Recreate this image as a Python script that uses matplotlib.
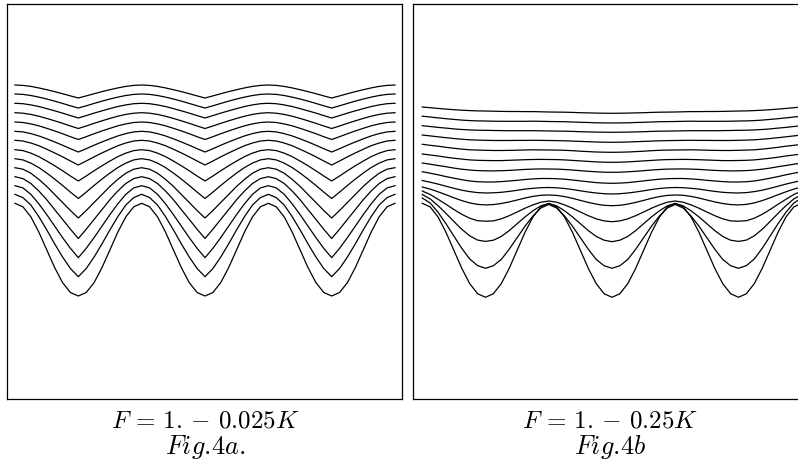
import numpy as np
import matplotlib.pyplot as plt

plt.rcParams['mathtext.fontset'] = 'cm'

# positions along the front in periods of the initial wave, from the middle trough,
# one sample every 1/16 period
phase_a = np.arange(9) / 16.     # trough -> crest, fig 4a repeats it
phase_b = np.arange(25) / 16.    # middle trough -> edge, fig 4b is mirrored

# fig 4a : F = 1 - 0.025K, initial front first, then every time step upward
# vertical position (pixels, counted downward)
front_a = [
    [296.0, 292.5, 282.5, 267.4, 249.7, 231.9, 216.8, 206.8, 203.3],
    [276.7, 268.5, 256.9, 243.7, 229.7, 216.5, 205.0, 197.6, 194.3],
    [257.7, 248.3, 237.5, 226.0, 214.5, 203.7, 194.3, 187.9, 185.7],
    [238.5, 229.2, 219.3, 209.5, 199.6, 190.9, 183.5, 178.6, 176.7],
    [218.0, 210.5, 202.4, 194.4, 186.3, 179.3, 173.2, 169.2, 167.7],
    [198.5, 192.1, 185.4, 179.0, 173.0, 167.5, 163.1, 159.9, 158.7],
    [181.0, 176.0, 170.7, 165.7, 161.0, 156.6, 153.1, 150.6, 149.7],
    [165.0, 161.0, 156.8, 152.9, 149.2, 145.7, 143.0, 141.0, 140.3],
    [152.0, 148.7, 145.2, 141.9, 138.8, 135.9, 133.6, 131.9, 131.3],
    [139.5, 136.7, 133.7, 130.9, 128.3, 125.8, 123.9, 122.5, 122.0],
    [128.5, 126.0, 123.3, 120.8, 118.4, 116.2, 114.4, 113.2, 112.7],
    [118.0, 115.6, 113.1, 110.8, 108.6, 106.5, 104.9, 103.7, 103.3],
    [108.0, 105.8, 103.4, 101.1, 99.0, 97.1, 95.5, 94.4, 94.0],
    [98.0, 95.9, 93.7, 91.6, 89.7, 87.9, 86.4, 85.4, 85.0],
]

# fig 4b : F = 1 - 0.25K
front_b = [
    [297.3, 293.7, 283.6, 268.3, 250.3, 232.3, 217.0, 206.9, 203.3, 206.9, 217.0, 232.3, 250.3,
     268.3, 283.6, 293.7, 297.3, 293.7, 283.6, 268.3, 250.3, 232.3, 217.0, 206.9, 203.3],
    [268.3, 265.7, 259.4, 249.2, 237.7, 226.2, 216.0, 208.0, 204.5, 208.0, 216.0, 226.2, 237.7,
     249.2, 259.4, 265.7, 268.3, 265.6, 259.0, 248.3, 236.1, 223.7, 212.3, 203.0, 198.0],
    [241.7, 240.2, 236.4, 230.6, 223.7, 216.9, 210.8, 205.8, 203.5, 205.8, 210.8, 216.9, 223.7,
     230.6, 236.4, 240.2, 241.4, 240.1, 235.8, 229.3, 221.5, 213.4, 205.7, 198.9, 194.5],
    [221.7, 220.9, 218.8, 215.7, 212.0, 208.2, 204.9, 202.2, 201.0, 202.2, 204.9, 208.2, 212.0,
     215.7, 218.8, 220.9, 221.2, 220.7, 218.2, 214.3, 209.5, 204.3, 199.3, 194.5, 191.0],
    [205.7, 205.3, 204.1, 202.4, 200.4, 198.3, 196.6, 195.4, 195.0, 195.3, 196.4, 198.0, 200.0,
     201.9, 203.5, 204.6, 204.9, 204.4, 202.9, 200.6, 197.8, 194.7, 191.8, 189.1, 187.0],
    [194.0, 193.7, 193.0, 192.0, 190.8, 189.5, 188.5, 187.8, 187.5, 187.7, 188.3, 189.1, 190.3,
     191.4, 192.3, 192.8, 193.0, 192.6, 191.6, 190.2, 188.3, 186.2, 184.1, 182.2, 180.5],
    [183.3, 183.1, 182.6, 181.8, 180.9, 180.0, 179.2, 178.7, 178.5, 178.5, 178.9, 179.5, 180.3,
     181.0, 181.6, 182.0, 182.0, 181.7, 181.0, 179.7, 178.2, 176.6, 174.8, 173.2, 171.7],
    [172.3, 172.2, 171.8, 171.3, 170.7, 170.0, 169.5, 169.1, 169.0, 168.9, 169.1, 169.4, 169.9,
     170.4, 170.7, 170.9, 170.8, 170.6, 170.0, 169.2, 168.1, 166.7, 165.5, 164.2, 163.0],
    [162.3, 162.2, 161.9, 161.4, 160.9, 160.4, 159.9, 159.6, 159.5, 159.4, 159.5, 159.7, 160.0,
     160.3, 160.6, 160.6, 160.5, 160.3, 159.9, 159.1, 158.2, 157.2, 156.0, 155.0, 154.0],
    [152.3, 152.2, 152.0, 151.6, 151.2, 150.7, 150.3, 150.1, 150.0, 149.9, 149.8, 150.0, 150.2,
     150.4, 150.5, 150.5, 150.3, 150.1, 149.8, 149.1, 148.3, 147.3, 146.2, 145.3, 144.3],
    [142.3, 142.2, 142.0, 141.7, 141.4, 141.1, 140.8, 140.6, 140.5, 140.4, 140.3, 140.4, 140.4,
     140.5, 140.5, 140.5, 140.3, 140.1, 139.8, 139.2, 138.5, 137.7, 136.8, 135.9, 135.0],
    [132.3, 132.2, 132.1, 131.9, 131.7, 131.4, 131.2, 131.1, 131.0, 130.8, 130.7, 130.7, 130.7,
     130.7, 130.6, 130.5, 130.3, 130.2, 129.9, 129.5, 128.9, 128.1, 127.4, 126.5, 125.7],
    [123.0, 122.9, 122.8, 122.5, 122.3, 122.0, 121.7, 121.6, 121.5, 121.3, 121.2, 121.3, 121.3,
     121.3, 121.3, 121.2, 121.0, 120.9, 120.6, 120.1, 119.4, 118.7, 117.9, 117.0, 116.2],
    [113.3, 113.2, 113.1, 112.9, 112.7, 112.4, 112.2, 112.1, 112.0, 111.8, 111.6, 111.6, 111.5,
     111.5, 111.4, 111.2, 111.0, 110.9, 110.6, 110.2, 109.7, 109.1, 108.4, 107.7, 107.0],
]

captions = [r'$F\,=\,1.-\,0.025K$', r'$F\,=\,1.-\,0.25K$']
fig_names = [r'$Fig.\!4a.$', r'$Fig.\!4b$']


def tile_half_period(profile):
    # crest-trough-crest... over three periods, from the half-period samples
    n = len(profile) - 1
    idx = np.arange(-3 * n, 3 * n + 1)
    m = np.abs(idx) % (2 * n)
    m = np.where(m > n, 2 * n - m, m)
    return idx * phase_a[1], np.asarray(profile)[m]


def mirror(phase, values):
    values = np.asarray(values)
    return np.concatenate([-phase[:0:-1], phase]), np.concatenate([values[:0:-1], values])


fig = plt.figure(figsize=(7.98, 4.65), dpi=100)
ax_a = fig.add_axes([7 / 798., 66 / 465., 395 / 798., 394.5 / 465.])
ax_b = fig.add_axes([413 / 798., 66 / 465., 395 / 798., 394.5 / 465.])

for prof in front_a:
    x, y = tile_half_period(prof)
    ax_a.plot(x, y, color='k', lw=0.9)

for vals in front_b:
    x, y = mirror(phase_b, vals)
    ax_b.plot(x, y, color='k', lw=0.9)

ax_a.set_xlim(-198 / 126.67, 197 / 126.67)
ax_b.set_xlim(-199 / 126.5, 196 / 126.5)

for ax in (ax_a, ax_b):
    ax.set_ylim(399, 4.5)
    ax.set_xticks([])
    ax.set_yticks([])
    for sp in ax.spines.values():
        sp.set_linewidth(0.9)
        sp.set_color('k')

for xc, cap, name in zip([205 / 798., 610 / 798.], captions, fig_names):
    fig.text(xc, 38 / 465., cap, ha='center', va='baseline', fontsize=18)
    fig.text(xc, 11 / 465., name, ha='center', va='baseline', fontsize=19)

fig.savefig('out.png', dpi=100)
